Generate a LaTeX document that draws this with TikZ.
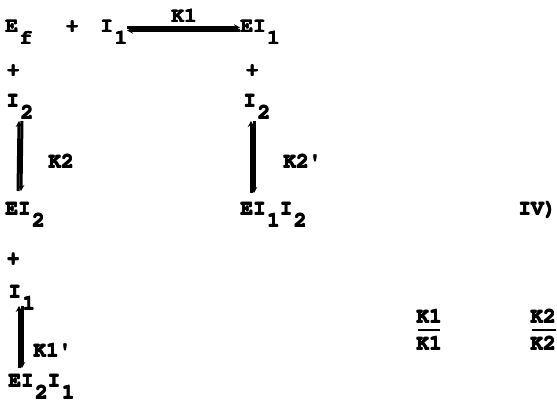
\documentclass[tikz,border=0pt]{standalone}
\usepackage[T1]{fontenc}
\usepackage{courier}
\usetikzlibrary{calc,arrows.meta}
\newcommand\sbd[1]{\kern1.5pt\raisebox{-12pt}{#1}}
% heavy typewriter strike: the same text printed with small offsets
\newcommand\hv[1]{\rlap{#1}\rlap{\kern0.7pt#1}\rlap{\raisebox{0.5pt}{#1}}\rlap{\kern0.7pt\raisebox{0.5pt}{#1}}\phantom{#1}}
\newcommand\pr{\textquotesingle}
\tikzset{
  lbl/.style={inner sep=0pt, anchor=base west, font=\fontsize{21}{24}\ttfamily\bfseries},
  eqline/.style={line width=3pt},
  tip/.style={-{Stealth[length=6pt,width=6.5pt]}},
}
\begin{document}
\begin{tikzpicture}[x=1pt,y=-1pt]
\useasboundingbox (0,0) rectangle (557,404);
\clip (0,0) rectangle (557,404);
% first row: E_f + I_1 <=> EI_1
\node[lbl] (Ef) at (5,33) {\hv{E\sbd{f}}};
\node[lbl, anchor=base] (p1) at (72,33) {\hv{+}};
\node[lbl] (I1) at (100,33) {\hv{I\sbd{1}}};
\node[lbl] (K1) at (171,23) {\hv{K1}};
\node[lbl] (EI1) at (240,33) {\hv{EI\sbd{1}}};
% second inhibitor on both branches
\node[lbl, anchor=base] (p2) at (13,77) {\hv{+}};
\node[lbl, anchor=base] (p3) at (252,77) {\hv{+}};
\node[lbl] (I2a) at (6,107) {\hv{I\sbd{2}}};
\node[lbl] (I2b) at (243,107) {\hv{I\sbd{2}}};
\node[lbl] (K2) at (48,168) {\hv{K2}};
\node[lbl] (K2p) at (283,168) {\hv{K2\pr}};
\node[lbl] (EI2) at (5,215) {\hv{EI\sbd{2}}};
\node[lbl] (EI1I2) at (240,215) {\hv{EI\sbd{1}I\sbd{2}}};
\node[lbl] (IV) at (518,215) {\hv{IV)}};
% third branch
\node[lbl, anchor=base] (p4) at (13,265) {\hv{+}};
\node[lbl] (I1b) at (8,298) {\hv{I\sbd{1}}};
\node[lbl] (K1p) at (33,357) {\hv{K1\pr}};
\node[lbl] (EI2I1) at (8,387) {\hv{EI\sbd{2}I\sbd{1}}};
% ratios of constants
\node[lbl] (Ra) at (416,323) {\hv{K1}};
\node[lbl] (Rb) at (416,350) {\hv{K1}};
\node[lbl] (Sa) at (530,323) {\hv{K2}};
\node[lbl] (Sb) at (530,350) {\hv{K2}};
\draw[line width=1.8pt] ($(Ra.base west)+(2,7)$) -- ($(Ra.base east)+(-2,7)$);
\draw[line width=1.8pt] ($(Sa.base west)+(2,7)$) -- ($(Sa.base east)+(0,7)$);
% equilibrium arrows
\draw[eqline, tip] ($(I1.base east)+(0,-5.5)$) -- ($(EI1.base west)+(0,-5.5)$);
\draw[eqline, tip] ($(EI1.base west)+(0,-2.5)$) -- ($(I1.base east)+(0,-2.5)$);
\draw[eqline, tip] ($(EI2.base west)+(13,-24)$) -- ($(I2a.base west)+(13,14)$);
\draw[eqline, tip] ($(I2a.base west)+(16,14)$) -- ($(EI2.base west)+(16,-24)$);
\draw[eqline, tip] ($(EI1I2.base west)+(11,-22)$) -- ($(I2b.base west)+(8,14)$);
\draw[eqline, tip] ($(I2b.base west)+(11,14)$) -- ($(EI1I2.base west)+(14,-22)$);
\draw[eqline, tip] ($(EI2I1.base west)+(11,-19)$) -- ($(I1b.base west)+(11,8)$);
\draw[eqline, tip] ($(I1b.base west)+(14,8)$) -- ($(EI2I1.base west)+(14,-19)$);
\end{tikzpicture}
\end{document}
